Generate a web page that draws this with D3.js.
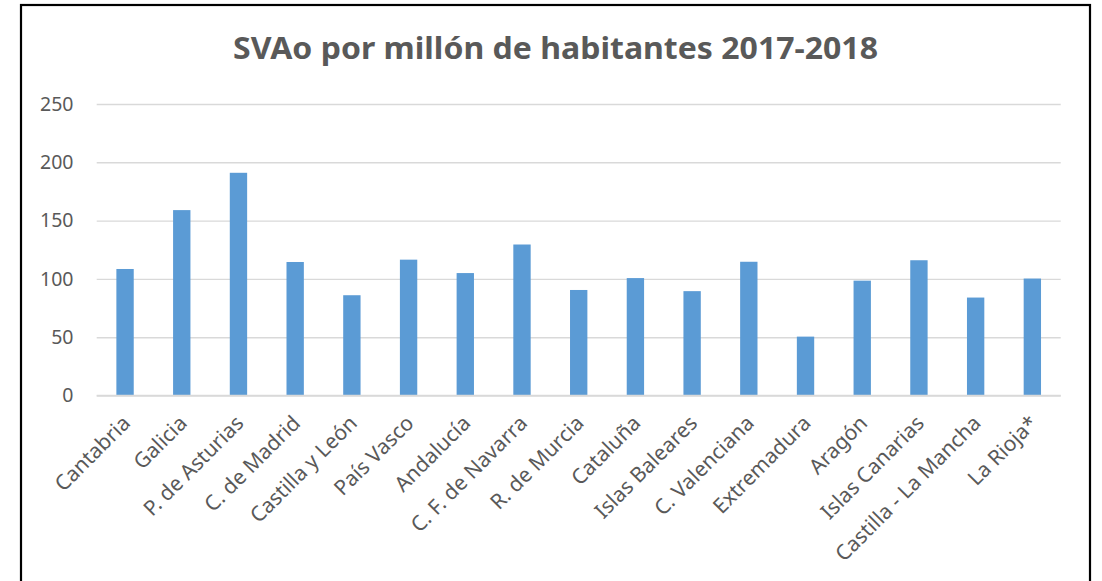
<!DOCTYPE html>
<html>
<head>
<meta charset="utf-8">
<script src="https://cdn.jsdelivr.net/npm/d3@7"></script>
<style>
  html, body { margin: 0; padding: 0; background: #fff; }
  svg { display: block; }
</style>
</head>
<body>
<svg id="chart" width="1102" height="581"></svg>
<script>
// Comunidades autónomas
const regions = [
  "Cantabria", "Galicia", "P. de Asturias", "C. de Madrid", "Castilla y León",
  "País Vasco", "Andalucía", "C. F. de Navarra", "R. de Murcia", "Cataluña",
  "Islas Baleares", "C. Valenciana", "Extremadura", "Aragón", "Islas Canarias",
  "Castilla - La Mancha", "La Rioja*"
];
// SVAo por millón de habitantes
const svaoPerMillion = [
  108.5, 159, 191, 114.5, 86,
  116.5, 105, 129.5, 90.5, 100.7,
  89.5, 114.7, 50.5, 98.5, 116,
  84, 100.3
];
const yTicks = [0, 50, 100, 150, 200, 250];
const titleText = "SVAo por millón de habitantes 2017-2018";

const svg = d3.select("#chart");
const FONT = "'Noto Sans', 'Open Sans', sans-serif";
const TEXT = "#595959";

// chart frame
svg.append("rect")
  .attr("x", 21).attr("y", 5)
  .attr("width", 1069).attr("height", 600)
  .attr("fill", "#fff")
  .attr("stroke", "#000")
  .attr("stroke-width", 2.2);

const x = d3.scaleBand()
  .domain(regions)
  .range([96.7, 1060.7])
  .paddingInner(0.694)
  .paddingOuter(0.347);

const y = d3.scaleLinear()
  .domain([0, 250])
  .range([395.5, 104]);

// gridlines
const grid = svg.append("g")
  .attr("transform", "translate(96.7,0)")
  .call(d3.axisLeft(y).tickValues(yTicks).tickSize(-964).tickFormat(""));
grid.select(".domain").remove();
grid.selectAll(".tick line").attr("stroke", "#d9d9d9").attr("stroke-width", 1.4);

// y tick labels
svg.append("g").selectAll("text")
  .data(yTicks)
  .join("text")
  .attr("x", 73.5)
  .attr("y", d => y(d))
  .attr("dy", "0.35em")
  .attr("text-anchor", "end")
  .attr("font-family", FONT)
  .attr("font-size", 19.5)
  .attr("fill", TEXT)
  .text(d => d);

// bars
svg.append("g").selectAll("rect")
  .data(svaoPerMillion)
  .join("rect")
  .attr("x", (d, i) => x(regions[i]))
  .attr("y", d => y(d))
  .attr("width", x.bandwidth())
  .attr("height", d => y(0) - y(d))
  .attr("fill", "#5b9bd5");

// category axis line
const xAxis = svg.append("g")
  .attr("transform", `translate(0,${y(0)})`)
  .call(d3.axisBottom(x).tickSize(0).tickFormat(""));
xAxis.select(".domain").attr("stroke", "#d9d9d9").attr("stroke-width", 1.4)
  .attr("d", "M96.7,0H1060.7");

// rotated category labels
svg.append("g").selectAll("text")
  .data(regions)
  .join("text")
  .attr("transform", d => `translate(${x(d) + x.bandwidth() / 2 + 6.5},${y(0) + 29}) rotate(-45)`)
  .attr("text-anchor", "end")
  .attr("font-family", FONT)
  .attr("font-size", 21)
  .attr("fill", TEXT)
  .text(d => d);

// title
svg.append("text")
  .attr("x", 555.5)
  .attr("y", 59)
  .attr("text-anchor", "middle")
  .attr("font-family", FONT)
  .attr("font-weight", "bold")
  .attr("font-size", 31)
  .attr("fill", TEXT)
  .attr("textLength", 645)
  .attr("lengthAdjust", "spacingAndGlyphs")
  .text(titleText);
</script>
</body>
</html>
